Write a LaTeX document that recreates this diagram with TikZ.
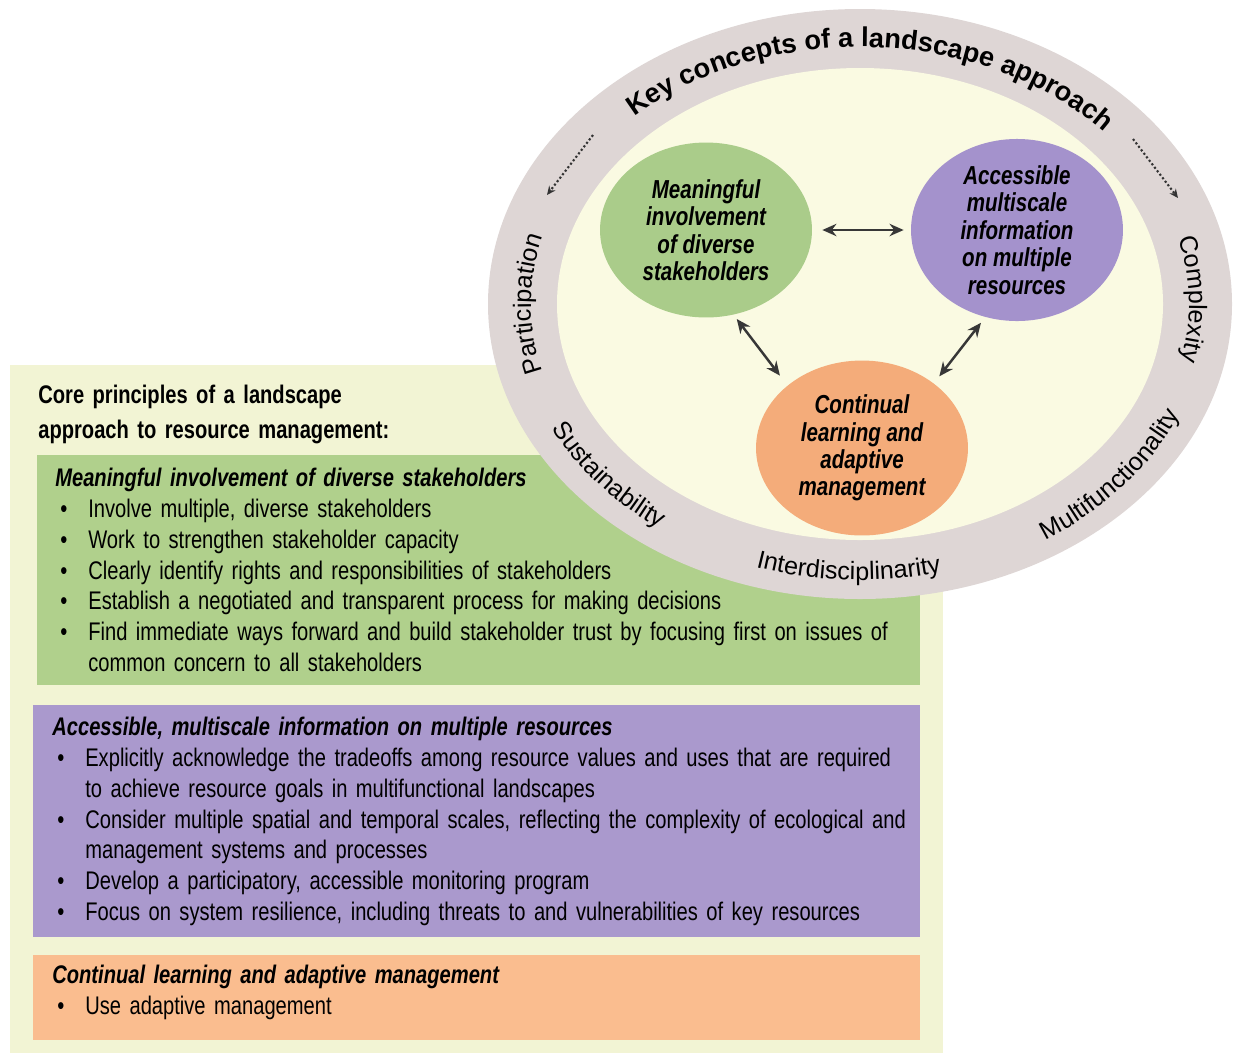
\documentclass[tikz,border=0pt]{standalone}
\usepackage{fontspec}
\setmainfont{Liberation Sans}[FakeStretch=0.79]
\newfontfamily\ringFace{Liberation Sans}
\usetikzlibrary{shapes.geometric,decorations.text,arrows.meta}
\definecolor{paleBox}{RGB}{242,244,212}
\definecolor{greenBox}{RGB}{176,208,140}
\definecolor{purpleBox}{RGB}{170,153,205}
\definecolor{orangeBox}{RGB}{250,189,143}
\definecolor{ringGray}{RGB}{222,214,213}
\definecolor{innerCream}{RGB}{250,250,226}
\definecolor{greenDisc}{RGB}{170,204,138}
\definecolor{purpleDisc}{RGB}{164,146,204}
\definecolor{orangeDisc}{RGB}{244,172,122}
\definecolor{arrowGray}{RGB}{55,55,55}
\newcommand{\ringFont}{\ringFace\fontsize{14.3}{14.3}\selectfont}
\newcommand{\keyFont}{\ringFace\bfseries\fontsize{15.5}{15.5}\selectfont}
\newcommand{\bitem}[1]{\par\noindent\hangindent=0.66cm\hangafter=1\makebox[0.66cm][l]{\hspace{0.1cm}\textbullet}#1\par}
\tikzstyle{disc}=[shape = ellipse, minimum width = 4.24cm, minimum height = 3.5cm, inner sep = 0pt, align = center, font = \fontsize{14.8}{15.6}\selectfont\bfseries\itshape]
\tikzstyle{boxText}=[anchor = north west, inner sep = 0pt, text width = 18.5cm, align = left, font = \fontsize{14.5}{17.5}\selectfont]
\tikzstyle{twoWay}=[{Stealth[length=8pt,width=7pt]}-{Stealth[length=8pt,width=7pt]}, line width = 1.4pt, draw = arrowGray]
\tikzstyle{dottedArrow}=[line width = 1.2pt, dash pattern = on 1.2pt off 1.3pt, -{Stealth[length=5pt,width=4.5pt]}, draw = black!80]

\begin{document}
\begin{tikzpicture}[x = 0.02cm, y = -0.02cm]
\useasboundingbox (0,0) rectangle (1237,1059);
% boxes on the left
\fill[paleBox] (10,365) rectangle (943,1053);
\fill[greenBox] (37,455) rectangle (920,685);
\fill[purpleBox] (33,705) rectangle (920,937);
\fill[orangeBox] (33,955) rectangle (920,1040);
% the ring
\coordinate (ctr) at (860,304);
\fill[ringGray] (ctr) ellipse [x radius = 372, y radius = 295];
\fill[innerCream] (ctr) ellipse [x radius = 303, y radius = 236];
\path[decorate, decoration = {text along path, text align = center, text = {|\keyFont|Key concepts of a landscape approach}}]
  (ctr) ++(-142:329 and 257) arc [start angle = -142, end angle = -33, x radius = 329, y radius = 257];
\path[decorate, decoration = {text along path, text align = center, text = {|\ringFont|Participation}}]
  (ctr) ++(160:329 and 257) arc [start angle = 160, end angle = 200, x radius = 329, y radius = 257];
\path[decorate, decoration = {text along path, text align = center, text = {|\ringFont|Complexity}}]
  (ctr) ++(-21:329 and 257) arc [start angle = -21, end angle = 19, x radius = 329, y radius = 257];
\path[decorate, decoration = {text along path, text align = center, text = {|\ringFont|Sustainability}}]
  (ctr) ++(162:345 and 276) arc [start angle = 162, end angle = 118, x radius = 345, y radius = 276];
\path[decorate, decoration = {text along path, text align = center, text = {|\ringFont|Interdisciplinarity}}]
  (ctr) ++(114:345 and 276) arc [start angle = 114, end angle = 70, x radius = 345, y radius = 276];
\path[decorate, decoration = {text along path, text align = center, text = {|\ringFont|Multifunctionality}}]
  (ctr) ++(65:348 and 279) arc [start angle = 65, end angle = 15, x radius = 348, y radius = 279];
% the three discs
\node[disc, fill = greenDisc] (meaningful) at (706,230) {Meaningful\\involvement\\of diverse\\stakeholders};
\node[disc, fill = purpleDisc] (accessible) at (1017,230) {Accessible\\multiscale\\information\\on multiple\\resources};
\node[disc, fill = orangeDisc] (continual) at (862,448) {Continual\\learning and\\adaptive\\management};
\draw[twoWay, shorten <= 5.7pt, shorten >= 4pt] (meaningful.east) -- (accessible.west);
\draw[twoWay, shorten <= 3pt, shorten >= 7pt] (meaningful.-72) -- (continual.140);
\draw[twoWay, shorten <= 4pt, shorten >= 5pt] (accessible.-110) -- (continual.42);
\coordinate (dotL1) at (593,135);
\coordinate (dotL2) at (547,195);
\coordinate (dotR1) at (1133,139);
\coordinate (dotR2) at (1178,198);
\draw[dottedArrow] (dotL1) -- (dotL2);
\draw[dottedArrow] (dotR1) -- (dotR2);
% texts of the boxes
\node[boxText, font = \fontsize{14.5}{19.8}\selectfont\bfseries] (core) at (38,385) {Core principles of a landscape\\approach to resource management:};
\node[boxText] (greenList) at (55,468) {\noindent\textbf{\textit{Meaningful involvement of diverse stakeholders}}
\bitem{Involve multiple, diverse stakeholders}
\bitem{Work to strengthen stakeholder capacity}
\bitem{Clearly identify rights and responsibilities of stakeholders}
\bitem{Establish a negotiated and transparent process for making decisions}
\bitem{Find immediate ways forward and build stakeholder trust by focusing first on issues of\newline common concern to all stakeholders}};
\node[boxText] (purpleList) at (52,717) {\noindent\textbf{\textit{Accessible, multiscale information on multiple resources}}
\bitem{Explicitly acknowledge the tradeoffs among resource values and uses that are required\newline to achieve resource goals in multifunctional landscapes}
\bitem{Consider multiple spatial and temporal scales, reflecting the complexity of ecological and\newline management systems and processes}
\bitem{Develop a participatory, accessible monitoring program}
\bitem{Focus on system resilience, including threats to and vulnerabilities of key resources}};
\node[boxText] (orangeList) at (52,965) {\noindent\textbf{\textit{Continual learning and adaptive management}}
\bitem{Use adaptive management}};
\end{tikzpicture}
\end{document}
